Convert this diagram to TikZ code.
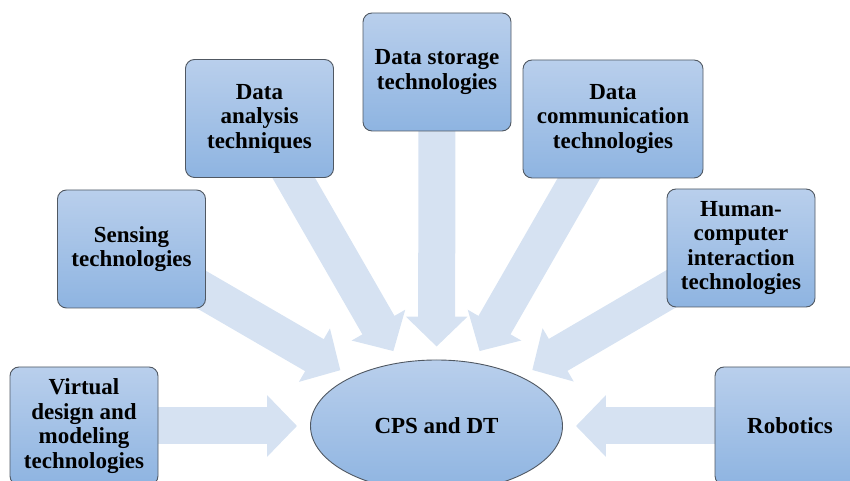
\documentclass[tikz,border=0pt]{standalone}
\usepackage{fontspec}
\setmainfont{Liberation Serif}
\usepackage{tikz}
\usetikzlibrary{shapes.geometric,arrows.meta,backgrounds}

\definecolor{boxtop}{RGB}{185,207,236}
\definecolor{boxbot}{RGB}{142,180,225}
\definecolor{boxline}{RGB}{80,88,98}
\definecolor{arrowfill}{RGB}{214,226,242}

\tikzset{
	techbox/.style={shape=rectangle,rounded corners=9pt,draw=boxline,line width=0.9pt,
		top color=boxtop,bottom color=boxbot,minimum width=148pt,minimum height=118pt,
		align=center,inner sep=2pt,font=\fontsize{23}{24.5}\selectfont\bfseries},
	fatarrow/.style={draw=arrowfill,line width=37pt,shorten >=13pt,
		-{Triangle[length=30pt,width=60pt,fill=arrowfill]}}
}

\begin{document}
\begin{tikzpicture}[x=1pt,y=1pt]
	\useasboundingbox (0,0) rectangle (850,481);
	
	\node[shape=ellipse,draw=boxline,line width=0.9pt,top color=boxtop,bottom color=boxbot,
		minimum width=252pt,minimum height=132pt,inner sep=0pt,
		font=\fontsize{23}{24.5}\selectfont\bfseries] (cps) at (436.5, 55) {CPS and DT};
	
	\node[techbox] (virt) at (84, 55)      {Virtual\\design and\\modeling\\technologies};
	\node[techbox] (sens) at (131.5, 232)  {Sensing\\technologies};
	\node[techbox] (anal) at (259.5, 362.5) {Data\\analysis\\techniques};
	\node[techbox] (stor) at (437, 409)    {Data storage\\technologies};
	\node[techbox,minimum width=180pt] (comm) at (613, 362) {Data\\communication\\technologies};
	\node[techbox] (hci) at (741, 233)     {Human-\\computer\\interaction\\technologies};
	\node[techbox,minimum width=150pt] (robo) at (790, 55) {Robotics};
	
	\begin{scope}[on background layer]
		\path[fatarrow] (virt.center) edge (cps);
		\path[fatarrow] (sens.center) edge (cps);
		\path[fatarrow] (anal.center) edge (cps);
		\path[fatarrow] (stor.center) edge (cps);
		\path[fatarrow] (comm.center) edge (cps);
		\path[fatarrow] (hci.center) edge (cps);
		\path[fatarrow] (robo.center) edge (cps);
	\end{scope}
\end{tikzpicture}
\end{document}
